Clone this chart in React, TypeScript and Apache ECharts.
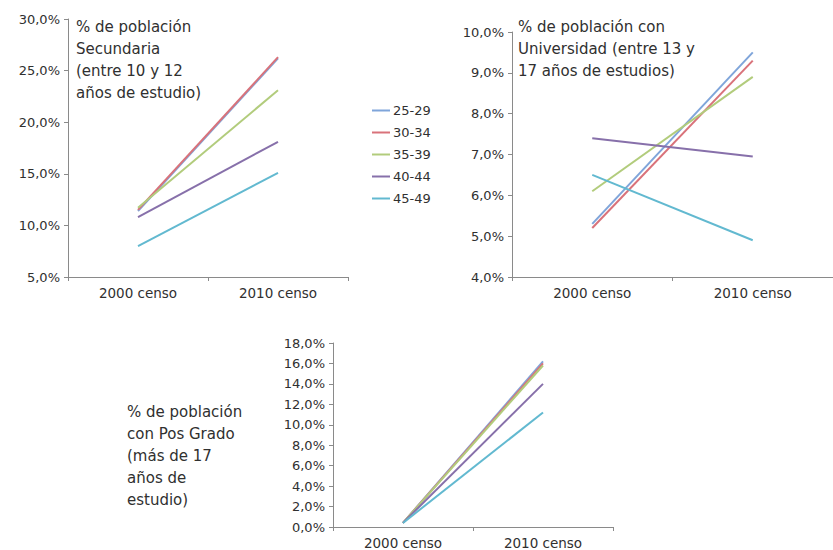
import React, { useEffect, useRef } from "react";
import * as echarts from "echarts";

const categories = ["2000 censo", "2010 censo"];
const groups = ["25-29", "30-34", "35-39", "40-44", "45-49"];
const colors = ["#7fa5da", "#d9727a", "#b2cc7c", "#8770aa", "#62b9d0"];

const secundaria = [
  [11.4, 26.2],
  [11.5, 26.3],
  [11.7, 23.1],
  [10.8, 18.1],
  [8.0, 15.1],
];
const universidad = [
  [5.3, 9.5],
  [5.2, 9.3],
  [6.1, 8.9],
  [7.4, 6.95],
  [6.5, 4.9],
];
const posgrado = [
  [0.4, 16.2],
  [0.4, 16.0],
  [0.4, 15.8],
  [0.4, 14.0],
  [0.4, 11.2],
];

const titles = [
  "% de población\nSecundaria\n(entre 10 y 12\naños de estudio)",
  "% de población con\nUniversidad (entre 13 y\n17 años de estudios)",
  "% de población\ncon Pos Grado\n(más de 17\naños de\nestudio)",
];

const FONT = "DejaVu Sans";
const AXIS_COLOR = "#8a8a8a";
const TEXT_COLOR = "#303030";

const fmt = (v: number) => v.toFixed(1).replace(".", ",") + "%";

export default function App() {
  const ref = useRef<HTMLDivElement>(null);
  useEffect(() => {
    document.body.style.margin = "0";
    const chart = echarts.init(ref.current!, null, { renderer: "svg" });
    const grids = [
      { left: 68, top: 19, width: 280, height: 258 },
      { left: 512, top: 32, width: 332, height: 245 },
      { left: 333, top: 343, width: 280, height: 184 },
    ];
    const yRanges = [
      { min: 5, max: 30, interval: 5 },
      { min: 4, max: 10, interval: 1 },
      { min: 0, max: 18, interval: 2 },
    ];
    const datasets = [secundaria, universidad, posgrado];
    const xAxis = grids.map((_, i) => ({
      type: "category",
      gridIndex: i,
      data: categories,
      boundaryGap: true,
      axisLine: { lineStyle: { color: AXIS_COLOR, width: 1 } },
      axisTick: { show: true, length: 4, inside: false, lineStyle: { color: AXIS_COLOR } },
      axisLabel: { color: TEXT_COLOR, fontFamily: FONT, fontSize: 13.5, margin: 9 },
      splitLine: { show: false },
    }));
    const yAxis = grids.map((_, i) => ({
      type: "value",
      gridIndex: i,
      ...yRanges[i],
      axisLine: { show: true, lineStyle: { color: AXIS_COLOR, width: 1 } },
      axisTick: { show: true, length: 4, lineStyle: { color: AXIS_COLOR } },
      axisLabel: {
        color: TEXT_COLOR,
        fontFamily: FONT,
        fontSize: 13,
        margin: 8,
        formatter: (v: number) => fmt(v),
      },
      splitLine: { show: false },
    }));
    const series: any[] = [];
    datasets.forEach((ds, gi) => {
      ds.forEach((vals, si) => {
        series.push({
          type: "line",
          name: groups[si],
          xAxisIndex: gi,
          yAxisIndex: gi,
          data: vals,
          showSymbol: false,
          symbol: "none",
          lineStyle: { width: 2, color: colors[si] },
          itemStyle: { color: colors[si] },
        });
      });
    });
    const titlePos = [
      { x: 76, y: 16 },
      { x: 518, y: 16 },
      { x: 127, y: 401 },
    ];
    chart.setOption({
      animation: false,
      color: colors,
      grid: grids,
      xAxis,
      yAxis,
      series,
      legend: {
        data: groups,
        orient: "vertical",
        left: 367,
        top: 99,
        icon: "rect",
        itemWidth: 18,
        itemHeight: 2,
        itemGap: 9,
        textStyle: { color: TEXT_COLOR, fontFamily: FONT, fontSize: 13, padding: [0, 0, 0, -2] },
      },
      graphic: titles.map((t, i) => ({
        type: "text",
        x: titlePos[i].x,
        y: titlePos[i].y,
        style: {
          text: t,
          fontFamily: FONT,
          fontSize: 15,
          lineHeight: 22,
          fill: TEXT_COLOR,
        },
      })),
    });
    return () => chart.dispose();
  }, []);
  return <div ref={ref} style={{ width: 833, height: 550 }} />;
}
